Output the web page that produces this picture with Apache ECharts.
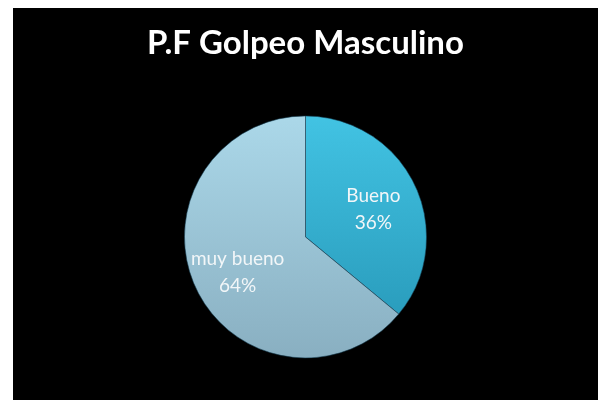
<!DOCTYPE html>
<html>
<head>
<meta charset="utf-8">
<script src="https://cdn.jsdelivr.net/npm/echarts@6/dist/echarts.min.js"></script>
<style>
  html, body { margin: 0; padding: 0; background: #ffffff; width: 598px; height: 400px; overflow: hidden; }
  #chart { position: absolute; left: 13px; top: 8px; width: 585px; height: 392px; }
</style>
</head>
<body>
<div id="chart"></div>
<script>
// Golpeo (masculino) results by rating
const titleText = 'P.F Golpeo Masculino';
const categories = ['Bueno', 'muy bueno'];
const values = [36, 64];

// Vertical shading for each slice: [top colour, bottom colour]
const sliceShades = [
  ['#42c3e3', '#2a9dbd'],
  ['#abd8e9', '#89afc1']
];

const pieData = categories.map((name, i) => ({
  name: name,
  value: values[i],
  itemStyle: {
    color: new echarts.graphic.LinearGradient(0, 0, 0, 1, [
      { offset: 0, color: sliceShades[i][0] },
      { offset: 1, color: sliceShades[i][1] }
    ])
  }
}));

const chart = echarts.init(document.getElementById('chart'), null, { renderer: 'canvas' });
chart.setOption({
  backgroundColor: '#000000',
  animation: false,
  title: {
    text: titleText,
    left: 'center',
    top: 14,
    textStyle: {
      color: '#ffffff',
      fontFamily: 'Lato',
      fontWeight: 'bold',
      fontSize: 33
    }
  },
  series: [
    {
      type: 'pie',
      center: ['50%', '58.4%'],
      radius: [0, 121],
      startAngle: 90,
      clockwise: true,
      silent: true,
      label: { show: false },
      labelLine: { show: false },
      itemStyle: {
        borderColor: 'rgba(20,60,80,0.55)',
        borderWidth: 1
      },
      data: pieData
    },
    {
      // transparent copy that carries the labels a little further out
      type: 'pie',
      center: ['50%', '58.4%'],
      radius: [0, 144],
      startAngle: 90,
      clockwise: true,
      silent: true,
      itemStyle: { color: 'rgba(0,0,0,0)' },
      labelLine: { show: false },
      label: {
        show: true,
        position: 'inside',
        formatter: '{b}\n{d}%',
        color: '#f2f6f8',
        fontFamily: 'Lato',
        fontSize: 19,
        lineHeight: 27,
        offset: [0, 4]
      },
      data: categories.map((name, i) => ({ name: name, value: values[i] }))
    }
  ]
});
</script>
</body>
</html>
